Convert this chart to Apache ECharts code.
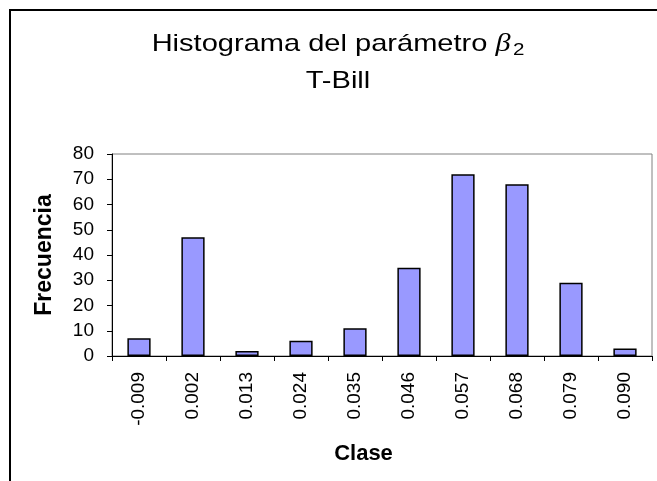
<!DOCTYPE html>
<html>
<head>
<meta charset="utf-8">
<script src="https://cdn.jsdelivr.net/npm/echarts@6/dist/echarts.min.js"></script>
<style>
html,body{margin:0;padding:0;background:#fff;}
#chart{width:657px;height:481px;}
</style>
</head>
<body>
<div id="chart"></div>
<script>
const titleLine1 = 'Histograma del parámetro ';
const titleLine2 = 'T-Bill';
const xAxisTitle = 'Clase';
const yAxisTitle = 'Frecuencia';
const categories = ['-0.009','0.002','0.013','0.024','0.035','0.046','0.057','0.068','0.079','0.090'];
const frequencies = [7, 47, 2, 6, 11, 35, 72, 68, 29, 3];
const yMin = 0, yMax = 80, yStep = 10;

const FONT = 'Liberation Sans, Arial, Helvetica, sans-serif';
const chart = echarts.init(document.getElementById('chart'), null, {renderer: 'canvas'});
chart.setOption({
  animation: false,
  backgroundColor: '#fff',
  graphic: [
    {type: 'rect', shape: {x: 10, y: 10, width: 700, height: 520}, style: {fill: 'none', stroke: '#000', lineWidth: 2}, silent: true},
    {type: 'text', x: 338, y: 44, scaleX: 1.21, style: {
      text: titleLine1 + '{b|β}{s|2}', fontSize: 24, fontFamily: FONT, fill: '#000',
      align: 'center', verticalAlign: 'middle', lineHeight: 30,
      rich: {
        b: {fontSize: 25, fontFamily: 'Liberation Serif, Times New Roman, serif', fontStyle: 'italic', fill: '#000', lineHeight: 30},
        s: {fontSize: 17, fontFamily: FONT, fill: '#000', lineHeight: 30, verticalAlign: 'bottom', padding: [0, 0, 0, 2]}
      }
    }},
    {type: 'text', x: 338, y: 81, scaleX: 1.21, style: {
      text: titleLine2, fontSize: 24, fontFamily: FONT, fill: '#000', align: 'center', verticalAlign: 'middle'
    }}
  ],
  grid: {left: 112, right: 5, top: 154, bottom: 125, show: true, borderColor: '#808080', borderWidth: 1, backgroundColor: 'transparent', containLabel: false},
  xAxis: {
    type: 'category',
    data: categories,
    name: xAxisTitle,
    nameLocation: 'middle',
    nameGap: 87,
    nameTextStyle: {fontSize: 22, fontWeight: 'bold', fontFamily: FONT, color: '#000', padding: [0, 37, 0, 0]},
    axisLine: {lineStyle: {color: '#000', width: 1}},
    axisTick: {show: true, length: 5, lineStyle: {color: '#000'}},
    axisLabel: {rotate: 90, fontSize: 19, fontFamily: FONT, color: '#000', margin: 16, interval: 0},
    splitLine: {show: false}
  },
  yAxis: {
    type: 'value',
    min: yMin, max: yMax, interval: yStep,
    name: yAxisTitle,
    nameLocation: 'middle',
    nameGap: 56,
    nameTextStyle: {fontSize: 23, fontWeight: 'bold', fontFamily: FONT, color: '#000'},
    axisLine: {show: true, lineStyle: {color: '#000', width: 1}},
    axisTick: {show: true, length: 5, lineStyle: {color: '#000'}},
    axisLabel: {fontSize: 19, fontFamily: FONT, color: '#000', margin: 18},
    splitLine: {show: false}
  },
  series: [{
    type: 'bar',
    data: frequencies,
    barWidth: '43%',
    itemStyle: {color: '#9999FF', borderColor: '#000', borderWidth: 1.5}
  }]
});
</script>
</body>
</html>
